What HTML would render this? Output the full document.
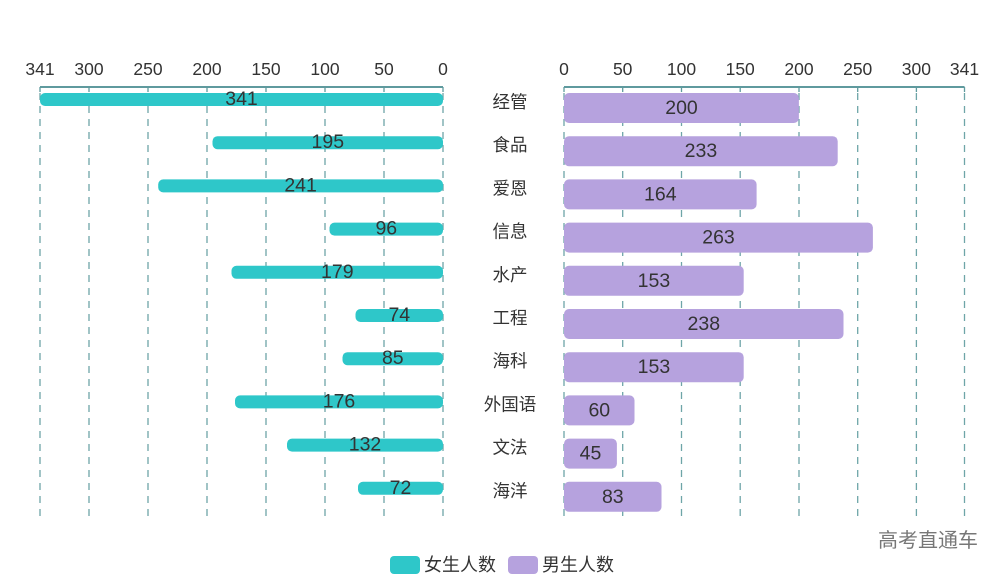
<!DOCTYPE html>
<html><head><meta charset="utf-8"><style>
html,body{margin:0;padding:0;background:#fff;}
svg{display:block;font-family:"Liberation Sans","Noto Sans CJK SC",sans-serif;}
</style></head><body>
<svg width="1006" height="579" viewBox="0 0 1006 579" xmlns="http://www.w3.org/2000/svg">
<g stroke="#6ea5a8" stroke-width="1.3" stroke-dasharray="7,6">
<line x1="443" y1="93" x2="443" y2="520"/><line x1="384" y1="93" x2="384" y2="520"/><line x1="325" y1="93" x2="325" y2="520"/><line x1="266" y1="93" x2="266" y2="520"/><line x1="207" y1="93" x2="207" y2="520"/><line x1="148" y1="93" x2="148" y2="520"/><line x1="89" y1="93" x2="89" y2="520"/><line x1="40" y1="93" x2="40" y2="520"/>
<line x1="564" y1="93" x2="564" y2="520"/><line x1="622.7" y1="93" x2="622.7" y2="520"/><line x1="681.5" y1="93" x2="681.5" y2="520"/><line x1="740.2" y1="93" x2="740.2" y2="520"/><line x1="799" y1="93" x2="799" y2="520"/><line x1="857.7" y1="93" x2="857.7" y2="520"/><line x1="916.4" y1="93" x2="916.4" y2="520"/><line x1="964.5" y1="93" x2="964.5" y2="520"/>
</g>
<g stroke="#5f9a9e" stroke-width="2">
<line x1="40" y1="87" x2="443" y2="87"/><line x1="564" y1="87" x2="964.5" y2="87"/>
</g>
<g stroke="#5f9a9e" stroke-width="1.3">
<line x1="443" y1="87" x2="443" y2="92"/><line x1="384" y1="87" x2="384" y2="92"/><line x1="325" y1="87" x2="325" y2="92"/><line x1="266" y1="87" x2="266" y2="92"/><line x1="207" y1="87" x2="207" y2="92"/><line x1="148" y1="87" x2="148" y2="92"/><line x1="89" y1="87" x2="89" y2="92"/><line x1="40" y1="87" x2="40" y2="92"/>
<line x1="564" y1="87" x2="564" y2="92"/><line x1="622.7" y1="87" x2="622.7" y2="92"/><line x1="681.5" y1="87" x2="681.5" y2="92"/><line x1="740.2" y1="87" x2="740.2" y2="92"/><line x1="799" y1="87" x2="799" y2="92"/><line x1="857.7" y1="87" x2="857.7" y2="92"/><line x1="916.4" y1="87" x2="916.4" y2="92"/><line x1="964.5" y1="87" x2="964.5" y2="92"/>
</g>
<g font-size="17.5" fill="#333" text-anchor="middle">
<text x="443" y="75">0</text><text x="384" y="75">50</text><text x="325" y="75">100</text><text x="266" y="75">150</text><text x="207" y="75">200</text><text x="148" y="75">250</text><text x="89" y="75">300</text><text x="40" y="75">341</text>
<text x="564" y="75">0</text><text x="622.7" y="75">50</text><text x="681.5" y="75">100</text><text x="740.2" y="75">150</text><text x="799" y="75">200</text><text x="857.7" y="75">250</text><text x="916.4" y="75">300</text><text x="964.5" y="75">341</text>
</g>
<g fill="#2ec7c9">
<rect x="40" y="93" width="403" height="13" rx="5"/>
<rect x="212.5" y="136.2" width="230.5" height="13" rx="5"/>
<rect x="158.2" y="179.4" width="284.8" height="13" rx="5"/>
<rect x="329.5" y="222.6" width="113.5" height="13" rx="5"/>
<rect x="231.5" y="265.8" width="211.5" height="13" rx="5"/>
<rect x="355.5" y="309" width="87.5" height="13" rx="5"/>
<rect x="342.5" y="352.2" width="100.5" height="13" rx="5"/>
<rect x="235" y="395.4" width="208" height="13" rx="5"/>
<rect x="287" y="438.6" width="156" height="13" rx="5"/>
<rect x="358" y="481.8" width="85" height="13" rx="5"/>
</g>
<g fill="#b6a2de">
<rect x="564" y="93" width="234.9" height="30" rx="5"/>
<rect x="564" y="136.2" width="273.7" height="30" rx="5"/>
<rect x="564" y="179.4" width="192.6" height="30" rx="5"/>
<rect x="564" y="222.6" width="308.9" height="30" rx="5"/>
<rect x="564" y="265.8" width="179.7" height="30" rx="5"/>
<rect x="564" y="309" width="279.5" height="30" rx="5"/>
<rect x="564" y="352.2" width="179.7" height="30" rx="5"/>
<rect x="564" y="395.4" width="70.5" height="30" rx="5"/>
<rect x="564" y="438.6" width="52.9" height="30" rx="5"/>
<rect x="564" y="481.8" width="97.5" height="30" rx="5"/>
</g>
<g font-size="19.5" fill="#333" text-anchor="middle" dominant-baseline="central">
<text x="241.5" y="99">341</text><text x="327.8" y="142.2">195</text><text x="300.6" y="185.4">241</text><text x="386.3" y="228.6">96</text><text x="337.3" y="271.8">179</text><text x="399.3" y="315">74</text><text x="392.8" y="358.2">85</text><text x="339" y="401.4">176</text><text x="365" y="444.6">132</text><text x="400.5" y="487.8">72</text>
<text x="681.5" y="108">200</text><text x="700.9" y="151.2">233</text><text x="660.3" y="194.4">164</text><text x="718.5" y="237.6">263</text><text x="653.9" y="280.8">153</text><text x="703.8" y="324">238</text><text x="653.9" y="367.2">153</text><text x="599.3" y="410.4">60</text><text x="590.5" y="453.6">45</text><text x="612.8" y="496.8">83</text>
</g>
<g font-size="17.5" fill="#333" text-anchor="middle" dominant-baseline="central">
<text x="510" y="102">经管</text><text x="510" y="145.2">食品</text><text x="510" y="188.4">爱恩</text><text x="510" y="231.6">信息</text><text x="510" y="274.8">水产</text><text x="510" y="318">工程</text><text x="510" y="361.2">海科</text><text x="510" y="404.4">外国语</text><text x="510" y="447.6">文法</text><text x="510" y="490.8">海洋</text>
</g>
<text x="978" y="547" font-size="20" fill="#777" text-anchor="end">高考直通车</text>
<rect x="390" y="556" width="30" height="18" rx="4" fill="#2ec7c9"/>
<text x="424" y="571" font-size="18" fill="#333">女生人数</text>
<rect x="508" y="556" width="30" height="18" rx="4" fill="#b6a2de"/>
<text x="542" y="571" font-size="18" fill="#333">男生人数</text>
</svg>
</body></html>
